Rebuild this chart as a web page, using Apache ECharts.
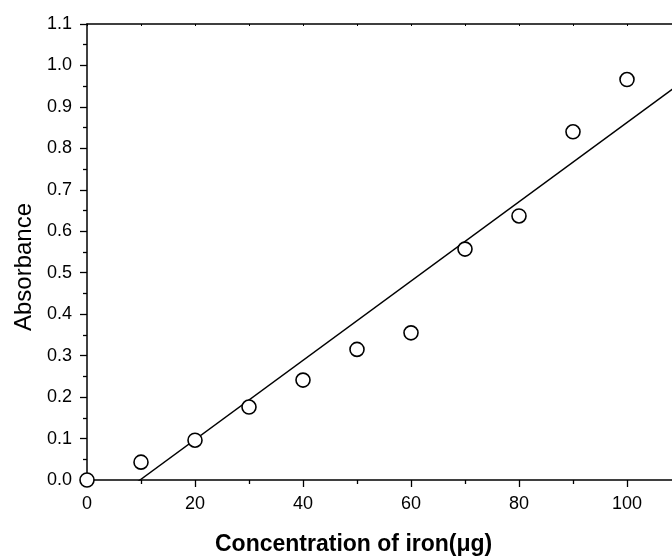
<!DOCTYPE html>
<html>
<head>
<meta charset="utf-8">
<script src="https://cdn.jsdelivr.net/npm/echarts@6/dist/echarts.min.js"></script>
<style>html,body{margin:0;padding:0;background:#fff;overflow:hidden;width:672px;height:556px}#c{width:684px;height:556px}</style>
</head>
<body>
<div id="c"></div>
<script>
var concentration = [0, 10, 20, 30, 40, 50, 60, 70, 80, 90, 100];
var absorbance = [0.000, 0.043, 0.096, 0.176, 0.241, 0.315, 0.355, 0.557, 0.637, 0.840, 0.966];
var xTitle = 'Concentration of iron(\u03bcg)';
var yTitle = 'Absorbance';

// least-squares fit of the measured points
var n = concentration.length, mx = 0, my = 0;
for (var i = 0; i < n; i++) { mx += concentration[i]; my += absorbance[i]; }
mx /= n; my /= n;
var sxy = 0, sxx = 0;
for (var i = 0; i < n; i++) { sxy += (concentration[i]-mx)*(absorbance[i]-my); sxx += (concentration[i]-mx)*(concentration[i]-mx); }
var slope = sxy / sxx, intercept = my - slope * mx;
var xMin = 0, xMax = 110;
var fitLine = [[xMin, intercept + slope*xMin], [xMax, intercept + slope*xMax]];

var font = 'Liberation Sans, Arial, sans-serif';
var chart = echarts.init(document.getElementById('c'));
chart.setOption({
  animation: false,
  backgroundColor: '#fff',
  grid: { left: 87, top: 24, right: 2, bottom: 76 },
  xAxis: [{
    type: 'value', min: xMin, max: xMax, interval: 20, position: 'bottom',
    axisLine: { onZero: false, lineStyle: { color: '#000', width: 1.5 } },
    axisTick: { length: 7, lineStyle: { color: '#000', width: 1.3 } },
    minorTick: { show: true, splitNumber: 2, length: 4, lineStyle: { color: '#000', width: 1.3 } },
    axisLabel: { color: '#000', fontFamily: font, fontSize: 18, margin: 15,
      formatter: function (v) { return v > 100 ? '' : v; } },
    splitLine: { show: false }
  }, {
    type: 'value', min: xMin, max: xMax, interval: 10, position: 'top',
    axisLine: { onZero: false, lineStyle: { color: '#000', width: 1.5 } },
    axisTick: { inside: true, length: 2, lineStyle: { color: '#000', width: 1 } },
    axisLabel: { show: false }, splitLine: { show: false }
  }],
  yAxis: {
    type: 'value', min: 0, max: 1.1, interval: 0.1,
    axisLine: { onZero: false, lineStyle: { color: '#000', width: 1.5 } },
    axisTick: { length: 7, lineStyle: { color: '#000', width: 1.3 } },
    minorTick: { show: true, splitNumber: 2, length: 4, lineStyle: { color: '#000', width: 1.3 } },
    axisLabel: { color: '#000', fontFamily: font, fontSize: 18, margin: 15,
      formatter: function (v) { return v.toFixed(1); } },
    splitLine: { show: false }
  },
  graphic: [{
    type: 'text', left: 215, top: 533,
    style: { text: xTitle, font: 'bold 23px ' + font, fill: '#000' }
  }, {
    type: 'text', x: 24, y: 267, rotation: Math.PI / 2,
    style: { text: yTitle, font: '24px ' + font, fill: '#000', align: 'center', verticalAlign: 'middle' }
  }],
  series: [{
    type: 'line', data: fitLine, symbol: 'none', clip: true, z: 1,
    lineStyle: { color: '#000', width: 1.4 }
  }, {
    type: 'scatter', z: 3,
    data: concentration.map(function (x, i) { return [x, absorbance[i]]; }),
    symbol: 'circle', symbolSize: 14, clip: false,
    itemStyle: { color: '#fff', borderColor: '#000', borderWidth: 1.6, opacity: 1 }
  }]
});
</script>
</body>
</html>
